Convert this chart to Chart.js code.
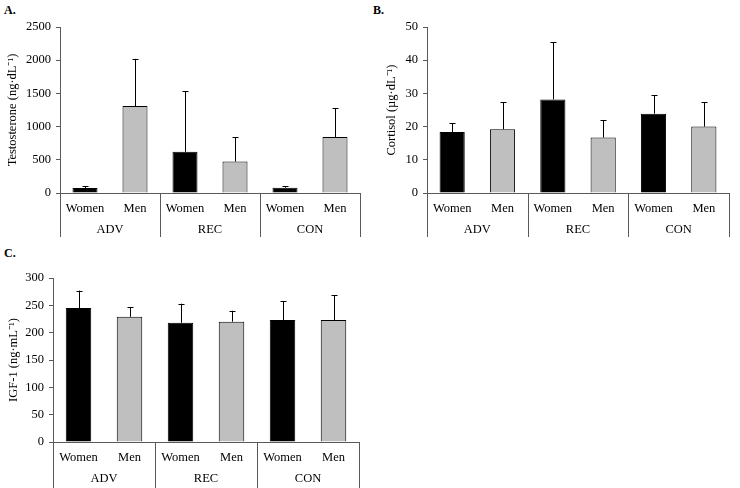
<!DOCTYPE html>
<html>
<head>
<meta charset="utf-8">
<script src="https://cdn.jsdelivr.net/npm/chart.js@4"></script>
<style>
    body { margin: 0; background: #fff; }
    #wrap { position: relative; width: 740px; height: 488px; overflow: hidden; }
    .panel { position: absolute; }
    .letter { position: absolute; font: bold 12px "Liberation Serif", serif; color: #000; }
</style>
</head>
<body>
<div id="wrap">
    <div class="letter" style="left:4px; top:3px;">A.</div>
    <div class="letter" style="left:373px; top:3px;">B.</div>
    <div class="letter" style="left:4px; top:246px;">C.</div>
    <div class="panel" style="left:5px; top:0px; width:361px; height:240px;"><canvas id="chartA"></canvas></div>
    <div class="panel" style="left:384px; top:0px; width:351px; height:240px;"><canvas id="chartB"></canvas></div>
    <div class="panel" style="left:6px; top:250px; width:359px; height:238px;"><canvas id="chartC"></canvas></div>
</div>
<script>
// Data
const sexLabels = ['Women', 'Men', 'Women', 'Men', 'Women', 'Men'];
const groupLabels = ['ADV', 'REC', 'CON'];

const testosteroneMean = [75, 1310, 620, 474, 80, 842];
const testosteroneSD = [30, 710, 910, 368, 25, 433];

const cortisolMean = [18.4, 19.2, 28.2, 16.7, 23.9, 20.0];
const cortisolSD = [2.6, 8.2, 17.2, 5.3, 5.5, 7.4];

const igfMean = [245, 229, 218, 220, 223, 223];
const igfSD = [32, 18, 35, 20, 35, 45];

const barColors = ['#000000', '#bfbfbf', '#000000', '#bfbfbf', '#000000', '#bfbfbf'];
const axisColor = '#595959';
const fontFamily = '"Liberation Serif", "Times New Roman", serif';

// error bars (upper only)
const errorBars = {
    id: 'errorBars',
    afterDatasetsDraw(chart) {
        const sd = chart.options.plugins.errorBars.sd;
        const meta = chart.getDatasetMeta(0);
        const y = chart.scales.y;
        const ctx = chart.ctx;
        ctx.save();
        ctx.strokeStyle = '#000';
        ctx.lineWidth = 1;
        meta.data.forEach((bar, i) => {
            const v = chart.data.datasets[0].data[i];
            const x = Math.round(bar.x) + 0.5;
            const top = y.getPixelForValue(v + sd[i]);
            const base = y.getPixelForValue(v);
            ctx.beginPath();
            ctx.moveTo(x, base);
            ctx.lineTo(x, top);
            ctx.moveTo(x - 3, Math.round(top) + 0.5);
            ctx.lineTo(x + 3, Math.round(top) + 0.5);
            ctx.stroke();
        });
        ctx.restore();
    }
};

// group separators and ADV / REC / CON labels below the axis
const groupAxis = {
    id: 'groupAxis',
    afterDraw(chart) {
        const opts = chart.options.plugins.groupAxis;
        const x = chart.scales.x;
        const bottom = chart.chartArea.bottom;
        const ctx = chart.ctx;
        const w = (x.right - x.left) / groupLabels.length;
        ctx.save();
        ctx.strokeStyle = axisColor;
        ctx.lineWidth = 1;
        for (let i = 0; i <= groupLabels.length; i++) {
            const gx = Math.round(x.left + i * w) + 0.5;
            ctx.beginPath();
            ctx.moveTo(gx, bottom);
            ctx.lineTo(gx, bottom + opts.lineLength);
            ctx.stroke();
        }
        ctx.fillStyle = '#000';
        ctx.font = '12.5px ' + fontFamily;
        ctx.textAlign = 'center';
        ctx.textBaseline = 'middle';
        groupLabels.forEach((g, i) => {
            ctx.fillText(g, x.left + (i + 0.5) * w, bottom + 37);
        });
        ctx.restore();
    }
};

function makeChart(id, title, means, sds, max, step, layout) {
    const ctx = document.getElementById(id).getContext('2d');
    return new Chart(ctx, {
        type: 'bar',
        data: {
            labels: sexLabels,
            datasets: [{
                data: means,
                backgroundColor: barColors,
                borderColor: '#000',
                borderWidth: 1,
                barPercentage: 0.5,
                categoryPercentage: 1
            }]
        },
        options: {
            responsive: true,
            maintainAspectRatio: false,
            animation: false,
            layout: { padding: { top: layout.top, right: layout.right, left: 0, bottom: 0 } },
            plugins: {
                legend: { display: false },
                tooltip: { enabled: false },
                errorBars: { sd: sds },
                groupAxis: { lineLength: layout.sepLen }
            },
            scales: {
                x: {
                    grid: { display: false },
                    border: { display: true, color: axisColor, width: 1 },
                    ticks: { color: '#000', font: { family: fontFamily, size: 12.5 }, padding: 0, maxRotation: 0 },
                    afterFit: s => { s.height = layout.xHeight; }
                },
                y: {
                    min: 0,
                    max: max,
                    ticks: {
                        stepSize: step,
                        color: '#000',
                        font: { family: fontFamily, size: 12.5 },
                        padding: 5,
                        callback: function (v) { return String(v); }
                    },
                    grid: { drawOnChartArea: false, drawTicks: true, tickLength: 4, color: axisColor },
                    border: { color: axisColor, width: 1 },
                    title: { display: true, text: title, color: '#000', font: { family: fontFamily, size: 12.5 }, padding: 0 },
                    afterFit: s => { s.width = layout.yWidth; }
                }
            }
        },
        plugins: [errorBars, groupAxis]
    });
}

makeChart('chartA', 'Testosterone (ng·dL⁻¹)', testosteroneMean, testosteroneSD, 2500, 500,
    { top: 27, right: 6, yWidth: 55, xHeight: 47, sepLen: 44 });
makeChart('chartB', 'Cortisol (µg·dL⁻¹)', cortisolMean, cortisolSD, 50, 10,
    { top: 27, right: 6, yWidth: 43, xHeight: 47, sepLen: 44 });
makeChart('chartC', 'IGF-1 (ng·mL⁻¹)', igfMean, igfSD, 300, 50,
    { top: 28, right: 6, yWidth: 47, xHeight: 46, sepLen: 46 });
</script>
</body>
</html>
